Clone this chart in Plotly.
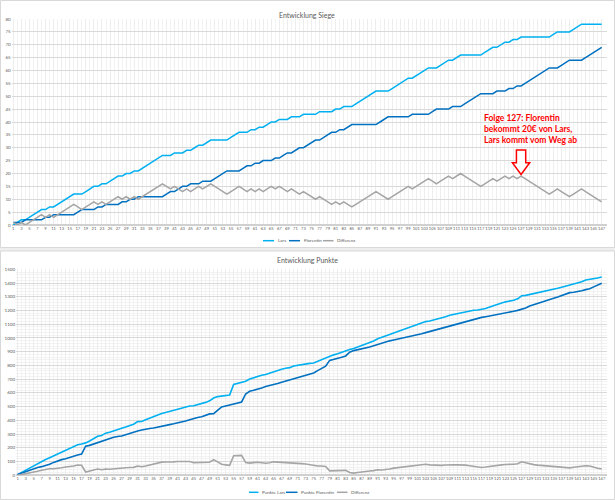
import plotly.graph_objects as go

# ---------------- data ----------------
episodes = list(range(1, 148))

lars_wins = [0, 1, 2, 2, 3, 4, 5, 6, 6, 7,
             7, 8, 9, 10, 11, 12, 12, 12, 13, 14,
             15, 15, 16, 16, 17, 18, 19, 19, 20, 20,
             21, 21, 22, 23, 24, 25, 26, 27, 27, 27,
             28, 28, 28, 29, 29, 30, 31, 31, 32, 33,
             33, 33, 33, 33, 34, 35, 36, 36, 36, 37,
             37, 38, 38, 39, 40, 40, 41, 41, 41, 42,
             42, 42, 43, 43, 43, 43, 44, 44, 44, 44,
             45, 45, 46, 46, 46, 47, 48, 49, 50, 51,
             52, 52, 52, 52, 53, 54, 55, 56, 57, 57,
             58, 59, 60, 61, 61, 61, 62, 63, 64, 64,
             65, 66, 66, 66, 66, 66, 66, 67, 68, 69,
             69, 70, 71, 71, 72, 72, 73, 73, 73, 73,
             73, 73, 73, 73, 74, 75, 75, 75, 75, 76,
             77, 78, 78, 78, 78, 78, 78]

florentin_wins = [1, 1, 1, 2, 2, 2, 2, 2, 3, 3,
                  4, 4, 4, 4, 4, 4, 5, 6, 6, 6,
                  6, 7, 7, 8, 8, 8, 8, 9, 9, 10,
                  10, 11, 11, 11, 11, 11, 11, 11, 12, 13,
                  13, 14, 15, 15, 16, 16, 16, 17, 17, 17,
                  18, 19, 20, 21, 21, 21, 21, 22, 23, 23,
                  24, 24, 25, 25, 25, 26, 26, 27, 28, 28,
                  29, 30, 30, 31, 32, 33, 33, 34, 35, 36,
                  36, 37, 37, 38, 39, 39, 39, 39, 39, 39,
                  39, 40, 41, 42, 42, 42, 42, 42, 42, 43,
                  43, 43, 43, 43, 44, 45, 45, 45, 45, 46,
                  46, 46, 47, 48, 49, 50, 51, 51, 51, 51,
                  52, 52, 52, 53, 53, 54, 54, 55, 56, 57,
                  58, 59, 60, 61, 61, 61, 62, 63, 64, 64,
                  64, 64, 65, 66, 67, 68, 69]

diff_wins = [1, 0, 1, 0, 1, 2, 3, 4, 3, 4,
             3, 4, 5, 6, 7, 8, 7, 6, 7, 8,
             9, 8, 9, 8, 9, 10, 11, 10, 11, 10,
             11, 10, 11, 12, 13, 14, 15, 16, 15, 14,
             15, 14, 13, 14, 13, 14, 15, 14, 15, 16,
             15, 14, 13, 12, 13, 14, 15, 14, 13, 14,
             13, 14, 13, 14, 15, 14, 15, 14, 13, 14,
             13, 12, 13, 12, 11, 10, 11, 10, 9, 8,
             9, 8, 9, 8, 7, 8, 9, 10, 11, 12,
             13, 12, 11, 10, 11, 12, 13, 14, 15, 14,
             15, 16, 17, 18, 17, 16, 17, 18, 19, 18,
             19, 20, 19, 18, 17, 16, 15, 16, 17, 18,
             17, 18, 19, 18, 19, 18, 19, 18, 17, 16,
             15, 14, 13, 12, 13, 14, 13, 12, 11, 12,
             13, 14, 13, 12, 11, 10, 9]

lars_points = [5, 21, 37, 54, 73, 87, 100, 115, 128, 142,
               157, 169, 181, 194, 209, 223, 228, 236, 250, 266,
               284, 290, 307, 314, 325, 334, 342, 351, 363, 372,
               391, 392, 405, 417, 428, 440, 450, 458, 465, 473,
               482, 487, 493, 505, 506, 513, 522, 531, 542, 563,
               573, 578, 581, 584, 661, 670, 679, 685, 701, 711,
               721, 728, 734, 744, 756, 764, 772, 779, 784, 796,
               802, 805, 810, 815, 818, 830, 845, 858, 869, 877,
               885, 897, 905, 916, 924, 934, 945, 955, 965, 978,
               994, 1003, 1013, 1025, 1037, 1047, 1058, 1068, 1080, 1089,
               1100, 1109, 1119, 1123, 1130, 1136, 1145, 1155, 1165, 1171,
               1178, 1186, 1193, 1198, 1202, 1204, 1207, 1215, 1225, 1236,
               1245, 1254, 1263, 1267, 1274, 1285, 1307, 1310, 1316, 1321,
               1328, 1334, 1340, 1348, 1355, 1362, 1370, 1377, 1384, 1391,
               1399, 1410, 1422, 1426, 1430, 1437, 1444]

florentin_points = [5, 16, 27, 39, 51, 57, 63, 71, 80, 94,
                    107, 114, 121, 131, 141, 148, 155, 212, 218, 228,
                    238, 250, 262, 270, 277, 282, 286, 296, 306, 314,
                    323, 330, 337, 341, 345, 350, 354, 361, 369, 375,
                    381, 388, 396, 405, 415, 421, 427, 437, 447, 449,
                    473, 498, 505, 512, 519, 526, 534, 592, 612, 619,
                    626, 636, 646, 652, 658, 668, 677, 686, 694, 704,
                    712, 720, 728, 738, 745, 762, 777, 794, 837, 843,
                    849, 859, 869, 896, 908, 914, 920, 927, 934, 944,
                    954, 964, 973, 979, 985, 991, 998, 1006, 1014, 1019,
                    1024, 1031, 1039, 1047, 1056, 1064, 1073, 1080, 1087, 1095,
                    1102, 1110, 1119, 1128, 1136, 1143, 1150, 1155, 1160, 1166,
                    1172, 1178, 1184, 1189, 1194, 1201, 1209, 1218, 1233, 1243,
                    1254, 1262, 1270, 1280, 1289, 1298, 1308, 1319, 1330, 1333,
                    1337, 1344, 1352, 1358, 1372, 1385, 1398]

diff_points = [0, 5, 10, 15, 22, 30, 37, 44, 48, 48,
               50, 55, 60, 63, 68, 75, 73, 24, 32, 38,
               46, 40, 45, 44, 48, 52, 56, 55, 57, 58,
               68, 62, 68, 76, 83, 90, 96, 97, 96, 98,
               101, 99, 97, 100, 91, 92, 95, 94, 95, 114,
               100, 80, 76, 72, 142, 144, 145, 93, 89, 92,
               95, 92, 88, 92, 98, 96, 95, 93, 90, 92,
               90, 85, 82, 77, 73, 68, 68, 64, 32, 34,
               36, 38, 36, 20, 16, 20, 25, 28, 31, 34,
               40, 39, 40, 46, 52, 56, 60, 62, 66, 70,
               76, 78, 80, 76, 74, 72, 72, 75, 78, 76,
               76, 76, 74, 70, 66, 61, 57, 60, 65, 70,
               73, 76, 79, 78, 80, 84, 98, 92, 83, 78,
               74, 72, 70, 68, 66, 64, 62, 58, 54, 58,
               62, 66, 70, 68, 58, 52, 46]

series_names_top = ["Lars", "Florentin", "Differenz"]
series_names_bottom = ["Punkte Lars", "Punkte Florentin", "Differenz"]
title_top = "Entwicklung Siege"
title_bottom = "Entwicklung Punkte"
note_episode = 127
note_text = "Folge 127: Florentin<br>bekommt 20€ von Lars,<br>Lars kommt vom Weg ab"

# ---------------- style ----------------
W, H = 615, 500
C_LARS = "#00B0F0"
C_FLOR = "#0070C0"
C_DIFF = "#A5A5A5"
TXT = "#595959"
FONT = "Lato"

def px(x):
    return x / W

def py(y):
    return 1 - y / H

fig = go.Figure()
colors = [C_LARS, C_FLOR, C_DIFF]
for name, ys, c in zip(series_names_top, [lars_wins, florentin_wins, diff_wins], colors):
    fig.add_trace(go.Scatter(x=episodes, y=ys, name=name, mode="lines",
                             line=dict(color=c, width=1.5), xaxis="x", yaxis="y",
                             showlegend=False))
for name, ys, c in zip(series_names_bottom, [lars_points, florentin_points, diff_points], colors):
    fig.add_trace(go.Scatter(x=episodes, y=ys, name=name, mode="lines",
                             line=dict(color=c, width=1.6), xaxis="x2", yaxis="y2",
                             showlegend=False))

xcommon = dict(range=[0.6, 148.2], tick0=1, dtick=2, showgrid=True, gridcolor="#EDEDED",
               gridwidth=1, minor=dict(dtick=1, tick0=1, showgrid=True, gridcolor="#F3F3F3"),
               ticks="", showline=False, zeroline=False, automargin=False,
               tickfont=dict(family=FONT, size=4.1, color=TXT), tickangle=0)

fig.update_layout(
    width=W, height=H,
    margin=dict(l=0, r=0, t=0, b=0),
    paper_bgcolor="white",
    plot_bgcolor="rgba(0,0,0,0)",
    showlegend=False,
    xaxis=dict(domain=[px(11.7), px(606.5)], anchor="y", **xcommon),
    yaxis=dict(domain=[py(225), py(19)], anchor="x", range=[0, 80], dtick=5,
               showgrid=True, gridcolor="#D9D9D9", zeroline=True, zerolinecolor="#D0D0D0",
               ticks="", automargin=False,
               tickfont=dict(family=FONT, size=4.5, color=TXT)),
    xaxis2=dict(domain=[px(16), px(606.5)], anchor="y2", **xcommon),
    yaxis2=dict(domain=[py(475.3), py(269.3)], anchor="x2", range=[0, 1500], dtick=100,
                showgrid=True, gridcolor="#D9D9D9", zeroline=True, zerolinecolor="#D0D0D0",
                minor=dict(dtick=20, showgrid=True, gridcolor="#F2F2F2"),
                ticks="", automargin=False,
                tickfont=dict(family=FONT, size=4.5, color=TXT)),
)

shapes = []
annotations = []
# chart frames
shapes.append(dict(type="rect", xref="paper", yref="paper", x0=px(0), x1=px(615),
                   y0=py(251), y1=py(247.5), fillcolor="#EEEEEE", line=dict(width=0), layer="below"))
shapes.append(dict(type="rect", xref="paper", yref="paper", x0=px(0.5), x1=px(614.5),
                   y0=py(247.5), y1=py(0.5), line=dict(color="#D9D9D9", width=1), layer="below"))
shapes.append(dict(type="rect", xref="paper", yref="paper", x0=px(0.5), x1=px(614.5),
                   y0=py(499.5), y1=py(251), line=dict(color="#D9D9D9", width=1), layer="below"))

# titles
annotations.append(dict(text=title_top, xref="paper", yref="paper", x=px(307), y=py(8.5),
                        showarrow=False, font=dict(family=FONT, size=7, color=TXT)))
annotations.append(dict(text=title_bottom, xref="paper", yref="paper", x=px(307), y=py(259.5),
                        showarrow=False, font=dict(family=FONT, size=7, color=TXT)))

# custom legends (short line samples like the original)
def legend(items, ypx):
    for name, c, x0, x1 in items:
        shapes.append(dict(type="line", xref="paper", yref="paper", x0=px(x0), x1=px(x1),
                           y0=py(ypx), y1=py(ypx), line=dict(color=c, width=1.5)))
        annotations.append(dict(text=name, xref="paper", yref="paper", x=px(x1 + 1.5), y=py(ypx),
                                xanchor="left", yanchor="middle", showarrow=False,
                                font=dict(family=FONT, size=4.5, color=TXT)))

legend([(series_names_top[0], C_LARS, 263, 274),
        (series_names_top[1], C_FLOR, 289, 300),
        (series_names_top[2], C_DIFF, 323, 333.5)], 240.7)
legend([(series_names_bottom[0], C_LARS, 249, 258.5),
        (series_names_bottom[1], C_FLOR, 286, 297.5),
        (series_names_bottom[2], C_DIFF, 337, 347.5)], 492.3)

# hollow red arrow pointing at episode 127
e = note_episode
tip = diff_wins[episodes.index(e)] + 0.6
path = (f"M {e-1.15},{tip+9.5} L {e+1.15},{tip+9.5} L {e+1.15},{tip+4.6} "
        f"L {e+2.15},{tip+4.6} L {e},{tip} L {e-2.15},{tip+4.6} L {e-1.15},{tip+4.6} Z")
shapes.append(dict(type="path", xref="x", yref="y", path=path,
                   line=dict(color="#FF0000", width=1.5), fillcolor="white"))
annotations.append(dict(text=f"<b>{note_text}</b>", xref="x", yref="y", x=117.2, y=44.3,
                        xanchor="left", yanchor="top", align="left", showarrow=False,
                        font=dict(family=FONT, size=8.5, color="#FF0000")))

fig.update_layout(shapes=shapes, annotations=annotations)
fig.write_html("out.html")
